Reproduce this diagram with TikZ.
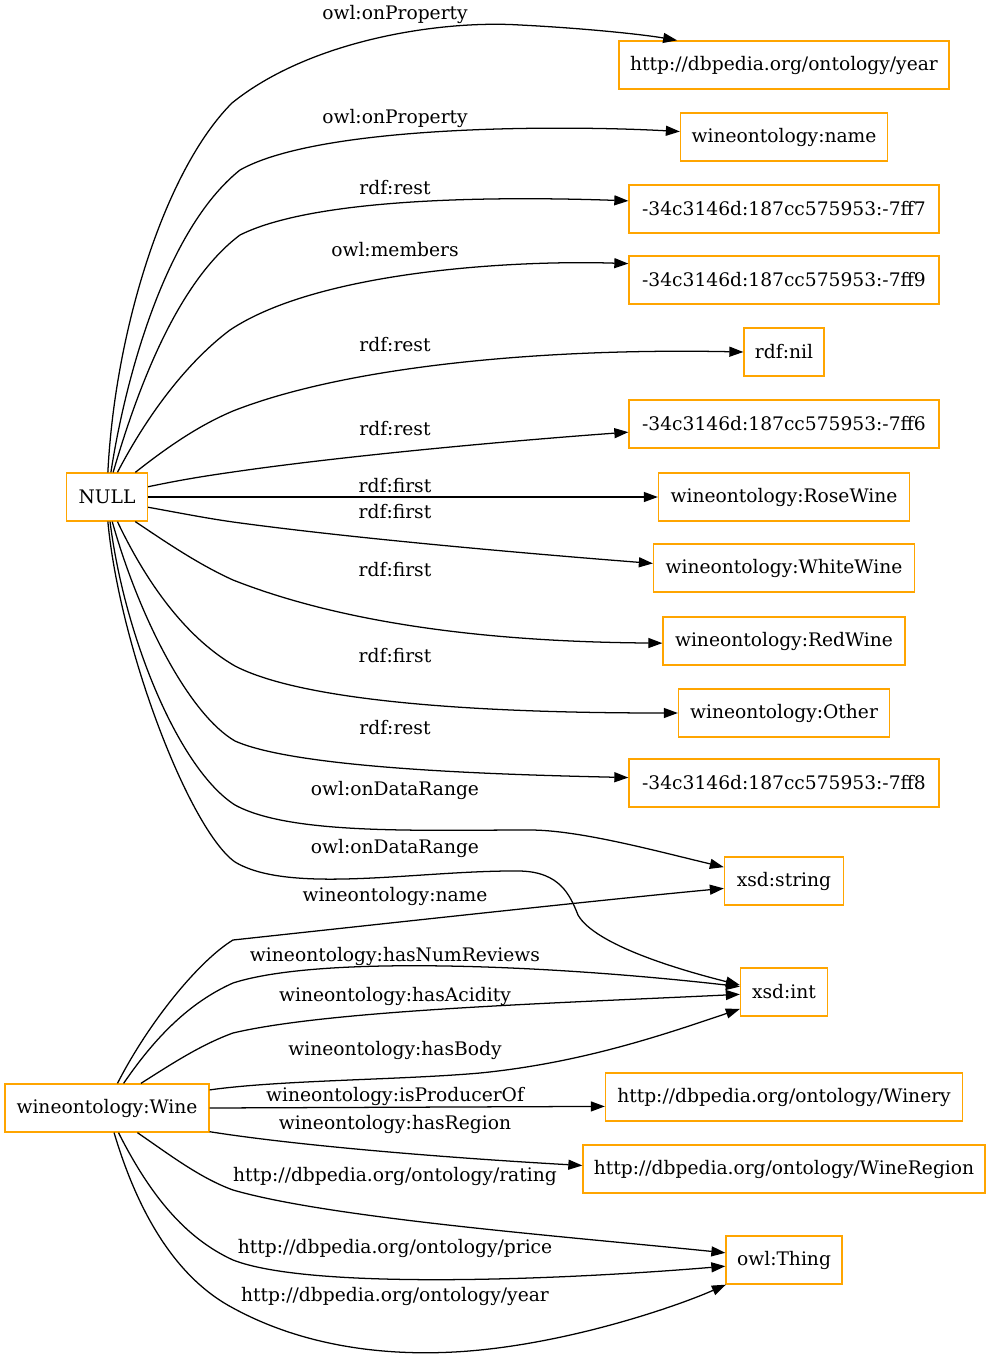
\documentclass[tikz,border=0pt]{standalone}
\usepackage{fontspec}
\setmainfont{DejaVu Serif}
\usepackage{tikz}
\usetikzlibrary{arrows.meta}
\definecolor{NodeOrange}{RGB}{255,165,0}

\begin{document}
\begin{tikzpicture}[
    x=0.75pt, y=-0.75pt,
    font=\fontsize{14}{17}\selectfont,
    res/.style={draw=NodeOrange, line width=1pt, rectangle, inner xsep=2pt, minimum height=36pt},
    rel/.style={-{Triangle[length=10.5pt,width=7.5pt]}, line width=0.95pt},
    lbl/.style={inner sep=0pt}
  ]
    \useasboundingbox (0,0) rectangle (991,1355);
    % subjects
    \node[res, minimum width=60.75pt](null) at (107,497){NULL};
    \node[res, minimum width=153pt](wine) at (107,1108){wineontology:Wine};
    % objects
    \node[res, minimum width=247.5pt](yr) at (784,65){http://dbpedia.org/ontology/year};
    \node[res, minimum width=155.25pt](nm) at (784,137){wineontology:name};
    \node[res, minimum width=232.5pt](b7) at (784,209){-34c3146d:187cc575953:-7ff7};
    \node[res, minimum width=232.5pt](b9) at (784,280){-34c3146d:187cc575953:-7ff9};
    \node[res, minimum width=60pt](nil) at (784,352){rdf:nil};
    \node[res, minimum width=232.5pt](b6) at (784,424){-34c3146d:187cc575953:-7ff6};
    \node[res, minimum width=188.25pt](rose) at (784,497){wineontology:RoseWine};
    \node[res, minimum width=195.75pt](white) at (784,568){wineontology:WhiteWine};
    \node[res, minimum width=181.5pt](red) at (784,641){wineontology:RedWine};
    \node[res, minimum width=158.25pt](other) at (784,713){wineontology:Other};
    \node[res, minimum width=232.5pt](b8) at (784,783){-34c3146d:187cc575953:-7ff8};
    \node[res, minimum width=89.25pt](str) at (784,881){xsd:string};
    \node[res, minimum width=65.25pt](int) at (784,992){xsd:int};
    \node[res, minimum width=267.75pt](winery) at (784,1097){http://dbpedia.org/ontology/Winery};
    \node[res, minimum width=301.5pt](region) at (784,1169){http://dbpedia.org/ontology/WineRegion};
    \node[res, minimum width=87pt](thing) at (784,1260){owl:Thing};
    % edges from NULL
    \draw[rel](null.88) .. controls (115,330) and (165,170) .. (232,103)
      .. controls (310,40) and (440,20) .. (520,25) .. controls (580,28) and (640,34) .. (yr.167)
      node[lbl] at (395,14){owl:onProperty};
    \draw[rel](null.81) .. controls (125,380) and (165,230) .. (240,170)
      .. controls (320,125) and (560,125) .. (nm.177)
      node[lbl] at (395,118){owl:onProperty};
    \draw[rel](null.76) .. controls (140,380) and (180,280) .. (240,235)
      .. controls (320,195) and (520,197) .. (b7.177)
      node[lbl] at (395,188){rdf:rest};
    \draw[rel](null.67) .. controls (150,410) and (190,360) .. (230,330)
      .. controls (320,270) and (520,260) .. (b9.174)
      node[lbl] at (395,250){owl:members};
    \draw[rel](null.41) .. controls (170,445) and (200,425) .. (233,411)
      .. controls (350,365) and (550,348) .. (nil.west)
      node[lbl] at (395,345){rdf:rest};
    \draw[rel](null.14) .. controls (180,480) and (205,476) .. (233,472)
      .. controls (350,455) and (520,440) .. (b6.183)
      node[lbl] at (395,429){rdf:rest};
    \draw[rel](null.east) -- (rose.west)
      node[lbl] at (395,486){rdf:first};
    \draw[rel](null.-14) .. controls (180,513) and (205,518) .. (233,522)
      .. controls (350,538) and (520,553) .. (white.178)
      node[lbl] at (395,512){rdf:first};
    \draw[rel](null.-41) .. controls (170,545) and (200,565) .. (233,580)
      .. controls (360,630) and (520,642) .. (red.181)
      node[lbl] at (395,570){rdf:first};
    \draw[rel](null.-67) .. controls (150,590) and (190,640) .. (235,666)
      .. controls (320,710) and (560,713) .. (other.west)
      node[lbl] at (395,656){rdf:first};
    \draw[rel](null.-78) .. controls (140,620) and (190,715) .. (235,741)
      .. controls (300,770) and (520,775) .. (b8.178)
      node[lbl] at (395,728){rdf:rest};
    \draw[rel](null.-83) .. controls (125,640) and (180,770) .. (235,805)
      .. controls (290,835) and (420,830) .. (530,830) .. controls (580,830) and (660,852) .. (str.167)
      node[lbl] at (395,790){owl:onDataRange};
    \draw[rel](null.-88) .. controls (120,650) and (190,830) .. (235,862)
      .. controls (290,895) and (420,870) .. (520,871) .. controls (560,872) and (570,895) .. (578,915)
      .. controls (595,945) and (680,970) .. (int.171)
      node[lbl] at (395,848){owl:onDataRange};
    % edges from wineontology:Wine
    \draw[rel](wine.67) .. controls (150,1020) and (200,960) .. (233,940)
      .. controls (400,922) and (600,900) .. (str.187)
      node[lbl] at (395,896){wineontology:name};
    \draw[rel](wine.56) .. controls (160,1030) and (195,1000) .. (233,983)
      .. controls (320,955) and (550,965) .. (int.173)
      node[lbl] at (395,956){wineontology:hasNumReviews};
    \draw[rel](wine.36) .. controls (170,1065) and (200,1045) .. (233,1033)
      .. controls (330,1010) and (560,1003) .. (int.183)
      node[lbl] at (395,996){wineontology:hasAcidity};
    \draw[rel](wine.10) .. controls (280,1080) and (400,1080) .. (480,1073)
      .. controls (580,1063) and (660,1036) .. (int.201)
      node[lbl] at (395,1050){wineontology:hasBody};
    \draw[rel](wine.east) -- (winery.183)
      node[lbl] at (395,1096){wineontology:isProducerOf};
    \draw[rel](wine.-13) .. controls (300,1146) and (450,1158) .. (region.179)
      node[lbl] at (395,1124){wineontology:hasRegion};
    \draw[rel](wine.-39) .. controls (170,1155) and (200,1178) .. (233,1190)
      .. controls (330,1218) and (560,1236) .. (thing.173)
      node[lbl] at (395,1176){http://dbpedia.org/ontology/rating};
    \draw[rel](wine.-65) .. controls (150,1195) and (185,1238) .. (233,1260)
      .. controls (310,1290) and (560,1280) .. (thing.186)
      node[lbl] at (395,1248){http://dbpedia.org/ontology/price};
    \draw[rel](wine.-74) .. controls (140,1220) and (180,1280) .. (233,1308)
      .. controls (310,1350) and (400,1358) .. (480,1350) .. controls (580,1340) and (680,1305) .. (thing.203)
      node[lbl] at (395,1296){http://dbpedia.org/ontology/year};
\end{tikzpicture}
\end{document}
